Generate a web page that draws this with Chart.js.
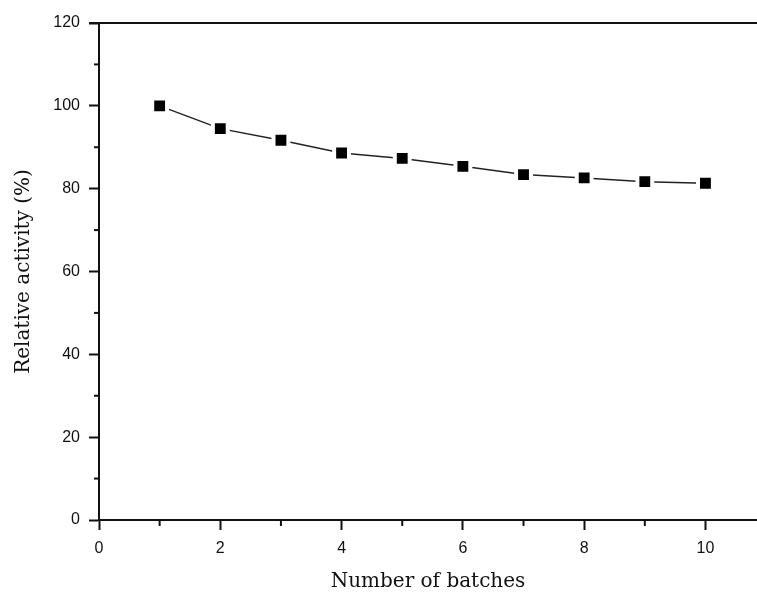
<!DOCTYPE html>
<html>
<head>
<meta charset="utf-8">
<script src="https://cdn.jsdelivr.net/npm/chart.js@4/dist/chart.umd.min.js"></script>
<style>
  html, body { margin: 0; padding: 0; background: #fff; }
  #wrap { width: 757px; height: 594px; }
</style>
</head>
<body>
<div id="wrap"><canvas id="batchChart" width="757" height="594"></canvas></div>
<script>
// data
const batches = [1, 2, 3, 4, 5, 6, 7, 8, 9, 10];
const activity = [100, 94.5, 91.7, 88.6, 87.3, 85.4, 83.4, 82.6, 81.7, 81.3];

// axis setup
const xMin = 0, xMax = 10.85, xMajor = 2, xMinor = 1;
const yMin = 0, yMax = 120, yMajor = 20, yMinor = 10;
const xTickValues = [0, 2, 4, 6, 8, 10];

// minor ticks + top frame line
const frameTicks = {
  id: 'frameTicks',
  afterDraw(chart) {
    const ctx = chart.ctx;
    const area = chart.chartArea;
    const xs = chart.scales.x;
    const ys = chart.scales.y;
    ctx.save();
    ctx.strokeStyle = '#111';
    ctx.lineWidth = 2;
    // top line
    ctx.beginPath();
    ctx.moveTo(area.left - 10, area.top);
    ctx.lineTo(area.right, area.top);
    ctx.stroke();
    // minor ticks on x
    for (let v = xMin + xMinor; v <= xMax; v += xMajor) {
      const px = xs.getPixelForValue(v);
      ctx.beginPath();
      ctx.moveTo(px, area.bottom);
      ctx.lineTo(px, area.bottom + 6);
      ctx.stroke();
    }
    // minor ticks on y
    for (let v = yMin + yMinor; v < yMax; v += yMajor) {
      const py = ys.getPixelForValue(v);
      ctx.beginPath();
      ctx.moveTo(area.left, py);
      ctx.lineTo(area.left - 5, py);
      ctx.stroke();
    }
    ctx.restore();
  }
};

const ctx = document.getElementById('batchChart').getContext('2d');
new Chart(ctx, {
  type: 'line',
  data: {
    datasets: [{
      label: 'Relative activity',
      data: batches.map((b, i) => ({ x: b, y: activity[i] })),
      borderColor: '#222',
      borderWidth: 1.5,
      pointStyle: 'rect',
      pointRadius: 10.5,
      pointBackgroundColor: '#000',
      pointBorderColor: '#fff',
      pointBorderWidth: 4,
      tension: 0
    }]
  },
  options: {
    responsive: false,
    animation: false,
    layout: { autoPadding: false, padding: { top: 23, right: 0, left: 0, bottom: 0 } },
    plugins: {
      legend: { display: false },
      tooltip: { enabled: false }
    },
    scales: {
      x: {
        type: 'linear',
        min: xMin,
        max: xMax,
        afterBuildTicks(scale) {
          scale.ticks = xTickValues.map(v => ({ value: v }));
        },
        afterFit(scale) { scale.height = 74; },
        ticks: {
          color: '#111',
          padding: 9,
          font: { family: 'Liberation Sans, Arial, sans-serif', size: 16 }
        },
        grid: { drawOnChartArea: false, tickLength: 10, tickWidth: 2, tickColor: '#111' },
        border: { color: '#111', width: 2 },
        title: {
          display: true,
          text: 'Number of batches',
          color: '#111',
          padding: { top: 10, bottom: 0 },
          font: { family: 'DejaVu Serif, serif', size: 20 }
        }
      },
      y: {
        min: yMin,
        max: yMax,
        afterFit(scale) { scale.width = 99; },
        ticks: {
          stepSize: yMajor,
          color: '#111',
          padding: 9,
          font: { family: 'Liberation Sans, Arial, sans-serif', size: 16 }
        },
        grid: { drawOnChartArea: false, tickLength: 10, tickWidth: 2, tickColor: '#111' },
        border: { color: '#111', width: 2 },
        title: {
          display: true,
          text: 'Relative activity (%)',
          color: '#111',
          padding: { top: 12, bottom: 0 },
          font: { family: 'DejaVu Serif, serif', size: 20 }
        }
      }
    }
  },
  plugins: [frameTicks]
});
</script>
</body>
</html>
